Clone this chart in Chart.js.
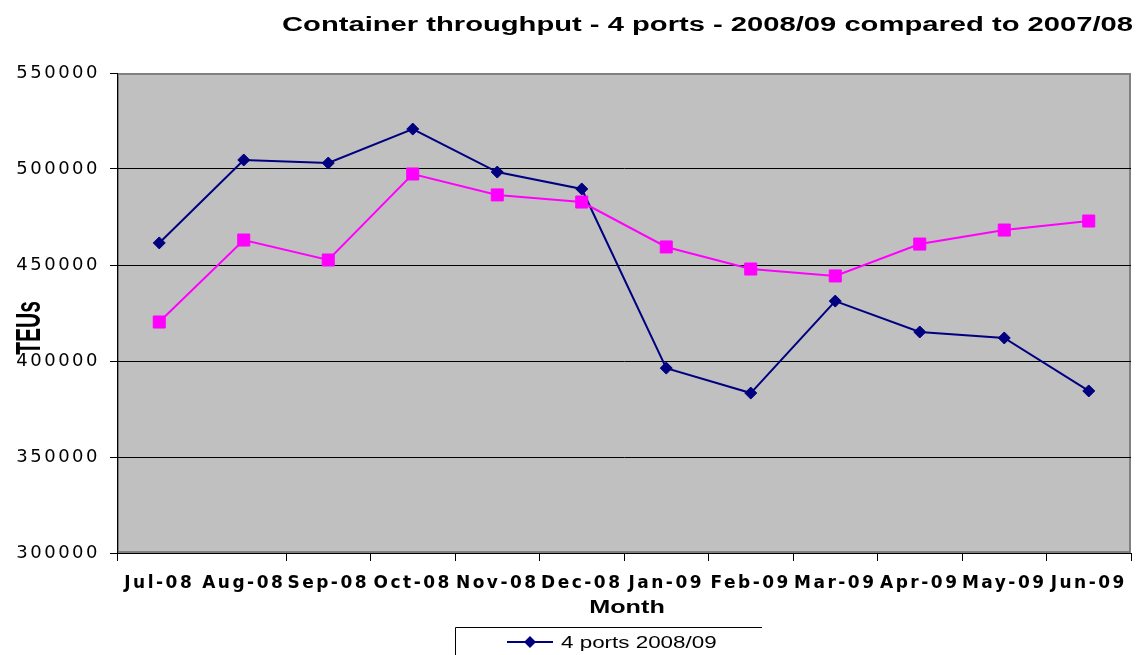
<!DOCTYPE html>
<html>
<head>
<meta charset="utf-8">
<title>Container throughput</title>
<script src="https://cdn.jsdelivr.net/npm/chart.js@4.4.1/dist/chart.umd.min.js"></script>
<style>
    html, body { margin: 0; padding: 0; background: #fff; }
    #wrap { width: 1146px; height: 655px; }
</style>
</head>
<body>
<div id="wrap"><canvas id="ports_chart" width="1146" height="655"></canvas></div>
<script>
// values
let months = ['Jul-08', 'Aug-08', 'Sep-08', 'Oct-08', 'Nov-08', 'Dec-08',
    'Jan-09', 'Feb-09', 'Mar-09', 'Apr-09', 'May-09', 'Jun-09']
let ports_0809 = [461500, 504700, 503100, 520800, 498400, 489600, 396300, 383300, 431200, 415100, 412000, 384400]
let ports_0708 = [420300, 463000, 452600, 497400, 486500, 482800, 459400, 447900, 444300, 460900, 468200, 472900]
let y_ticks = [300000, 350000, 400000, 450000, 500000, 550000]
let series_names = ['4 ports 2008/09', '4 ports 2007/08']
let chart_title = 'Container throughput - 4 ports - 2008/09 compared to 2007/08'
let y_title = 'TEUs'
let x_title = 'Month'

let font_name = '"Liberation Sans", Arial, sans-serif'
let tick_font = '"DejaVu Sans", sans-serif'
let tick_spacing = '2.5px'

// text in the picture is wide, so draw it stretched
function wide_text(ctx, text, x, y, size, weight, stretch, align) {
    ctx.save()
    ctx.letterSpacing = '0px'
    ctx.font = weight + ' ' + size + 'px ' + font_name
    ctx.fillStyle = '#000'
    ctx.textBaseline = 'alphabetic'
    ctx.textAlign = 'left'
    let w = ctx.measureText(text).width * stretch
    let left = align === 'center' ? x - w / 2 : x
    ctx.translate(left, y)
    ctx.scale(stretch, 1)
    ctx.fillText(text, 0, 0)
    ctx.restore()
}

let plot_background = {
    id: 'plot_background',
    beforeLayout(chart) {
        chart.ctx.letterSpacing = tick_spacing
    },
    beforeDraw(chart) {
        let ctx = chart.ctx
        let a = chart.chartArea
        ctx.letterSpacing = tick_spacing
        ctx.save()
        ctx.fillStyle = '#c0c0c0'
        ctx.fillRect(a.left, a.top, a.right - a.left, a.bottom - a.top)
        ctx.strokeStyle = '#808080'
        ctx.lineWidth = 2
        ctx.strokeRect(a.left + 1, a.top + 1, a.right - a.left - 2, a.bottom - a.top - 2)
        ctx.restore()
    }
}

let extra_text = {
    id: 'extra_text',
    afterDraw(chart) {
        let ctx = chart.ctx

        // title, fitted between 282 and 1133
        ctx.save()
        ctx.letterSpacing = '0px'
        ctx.font = 'bold 20px ' + font_name
        let tw = ctx.measureText(chart_title).width
        ctx.restore()
        wide_text(ctx, chart_title, 282, 31, 20, 'bold', 851 / tw, 'left')

        // x axis title
        wide_text(ctx, x_title, 627, 613, 18, 'bold', 1.4, 'center')

        // y axis title, rotated and thick
        ctx.save()
        ctx.letterSpacing = '0px'
        ctx.translate(30, 328)
        ctx.rotate(-Math.PI / 2)
        ctx.scale(1, 1.65)
        ctx.font = 'bold 21px ' + font_name
        ctx.fillStyle = '#000'
        ctx.textAlign = 'center'
        ctx.textBaseline = 'middle'
        ctx.fillText(y_title, 0, 0)
        ctx.restore()

        // legend box, the lower part is cut off by the picture
        ctx.save()
        ctx.strokeStyle = '#000'
        ctx.lineWidth = 1
        ctx.beginPath()
        ctx.moveTo(455.5, 700)
        ctx.lineTo(455.5, 627.5)
        ctx.lineTo(762, 627.5)
        ctx.stroke()
        chart.data.datasets.forEach(function (ds, i) {
            let y = 642 + i * 26
            ctx.strokeStyle = ds.borderColor
            ctx.fillStyle = ds.borderColor
            ctx.lineWidth = 2
            ctx.beginPath()
            ctx.moveTo(507, y)
            ctx.lineTo(553, y)
            ctx.stroke()
            ctx.beginPath()
            if (ds.pointStyle === 'rectRot') {
                ctx.moveTo(530, y - 6)
                ctx.lineTo(536, y)
                ctx.lineTo(530, y + 6)
                ctx.lineTo(524, y)
                ctx.closePath()
            } else {
                ctx.rect(524, y - 6, 12, 12)
            }
            ctx.fill()
            wide_text(ctx, ds.label, 561, y + 6, 16, 'normal', 1.4, 'left')
        })
        ctx.restore()
    }
}

function draw_ports_chart() {
    let canvas = document.querySelector('#ports_chart')
    let y_min = y_ticks[0]
    let y_max = y_ticks[y_ticks.length - 1]

    new Chart(canvas, {
        type: 'line',
        data: {
            labels: months,
            datasets: [{
                label: series_names[0],
                data: ports_0809,
                borderColor: '#000080',
                backgroundColor: '#000080',
                borderWidth: 2,
                pointStyle: 'rectRot',
                pointRadius: 6,
                pointBorderWidth: 1,
                tension: 0,
                order: 1
            }, {
                label: series_names[1],
                data: ports_0708,
                borderColor: '#ff00ff',
                backgroundColor: '#ff00ff',
                borderWidth: 2,
                pointStyle: 'rect',
                pointRadius: 8.5,
                pointBorderWidth: 1,
                tension: 0,
                order: 0
            }]
        },
        options: {
            responsive: false,
            animation: false,
            devicePixelRatio: 1,
            layout: {
                padding: { left: 0, top: 73, right: 15, bottom: 0 }
            },
            plugins: {
                legend: { display: false },
                title: { display: false },
                tooltip: { enabled: false }
            },
            scales: {
                x: {
                    offset: true,
                    grid: {
                        offset: true,
                        drawOnChartArea: false,
                        tickLength: 8,
                        // excel left out the second tick mark
                        tickColor: c => c.index === 1 ? 'rgba(0,0,0,0)' : '#000'
                    },
                    border: { color: '#000', width: 1 },
                    ticks: {
                        color: '#000',
                        font: { family: tick_font, size: 17, weight: 'bold' },
                        padding: 12,
                        maxRotation: 0,
                        autoSkip: false
                    },
                    afterFit: s => { s.height = 102 }
                },
                y: {
                    min: y_min,
                    max: y_max,
                    ticks: {
                        stepSize: y_ticks[1] - y_ticks[0],
                        callback: v => String(v),
                        color: '#000',
                        font: { family: tick_font, size: 18 },
                        padding: 10
                    },
                    grid: {
                        color: c => c.tick && c.tick.value === y_max ? 'rgba(0,0,0,0)' : '#000',
                        tickColor: '#000',
                        tickLength: 7,
                        lineWidth: 1
                    },
                    border: { color: '#000', width: 1 },
                    afterFit: s => { s.width = 117 }
                }
            }
        },
        plugins: [plot_background, extra_text]
    })
}

draw_ports_chart()
</script>
</body>
</html>
